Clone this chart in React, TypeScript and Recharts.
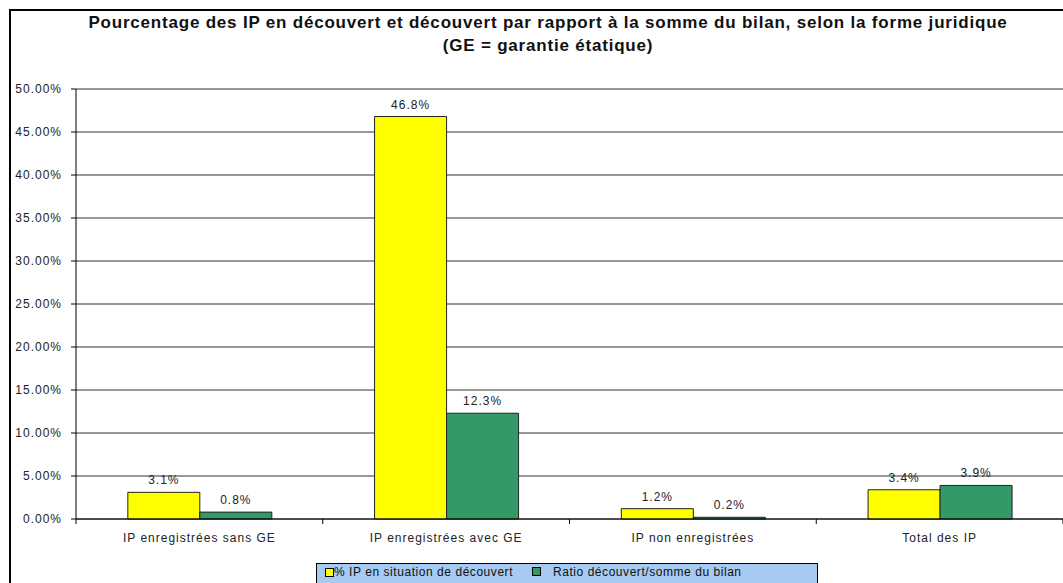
import React from 'react';
import { BarChart, Bar, XAxis, YAxis, CartesianGrid, LabelList } from 'recharts';

const categories = ['IP enregistrées sans GE', 'IP enregistrées avec GE', 'IP non enregistrées', 'Total des IP'];
const overdraftShare = [3.1, 46.8, 1.2, 3.4];
const overdraftRatio = [0.8, 12.3, 0.2, 3.9];
const yTicks = [0, 5, 10, 15, 20, 25, 30, 35, 40, 45, 50];
const seriesNames = ['% IP en situation de découvert', 'Ratio découvert/somme du bilan'];
const titleLines = ['Pourcentage des IP en découvert et découvert par rapport à la somme du bilan, selon la forme juridique', '(GE = garantie étatique)'];

const data = categories.map((c, i) => ({
  name: c,
  share: overdraftShare[i],
  ratio: overdraftRatio[i],
}));

const FONT = '"Liberation Sans", Arial, sans-serif';
const YELLOW = '#FFFF00';
const GREEN = '#339966';

const CategoryTick = (props: any) => {
  const { x, y, payload, index, visibleTicksCount } = props;
  const half = payload && payload.offset ? payload.offset : 0;
  const axisY = y - 6 - 5;
  return (
    <g>
      <line x1={x - half} x2={x - half} y1={axisY} y2={axisY + 5} stroke="#000" />
      {index === visibleTicksCount - 1 && (
        <line x1={x + half} x2={x + half} y1={axisY} y2={axisY + 5} stroke="#000" />
      )}
      <text x={x} y={y} dy={12} textAnchor="middle" fontSize={12} letterSpacing={1} fill="#222" fontFamily={FONT}>
        {payload.value}
      </text>
    </g>
  );
};

export default function App() {
  return (
    <div style={{ position: 'absolute', left: 0, top: 0, width: 1063, height: 583, overflow: 'hidden', background: '#fff', fontFamily: FONT }}>
      <div style={{ position: 'absolute', left: 9, top: 9, width: 1200, height: 800, border: '2px solid #000' }} />
      <div style={{ position: 'absolute', left: 0, top: 11, width: 1096, textAlign: 'center', fontWeight: 'bold', fontSize: 17, letterSpacing: 0.8, lineHeight: '23px', color: '#111' }}>
        {titleLines.map((t) => (
          <div key={t}>{t}</div>
        ))}
      </div>
      <div style={{ position: 'absolute', left: 0, top: 0 }}>
        <BarChart
          width={1063}
          height={583}
          data={data}
          margin={{ top: 89, right: 0, left: 0, bottom: 34 }}
          barCategoryGap="21%"
          barGap={0}
        >
          <CartesianGrid vertical={false} stroke="#333" strokeWidth={1} />
          <XAxis
            dataKey="name"
            height={30}
            axisLine={{ stroke: '#000' }}
            tickLine={false}
            tickSize={6}
            tickMargin={5}
            interval={0}
            tick={<CategoryTick />}
          />
          <YAxis
            width={76}
            domain={[0, 50]}
            ticks={yTicks}
            tickFormatter={(v: number) => `${v.toFixed(2)}%`}
            tickSize={5}
            tickMargin={9}
            axisLine={{ stroke: '#000' }}
            tickLine={{ stroke: '#000' }}
            tick={{ fontSize: 12, letterSpacing: 1, fill: '#222', fontFamily: FONT }}
          />
          <Bar dataKey="share" name={seriesNames[0]} fill={YELLOW} stroke="#222" strokeWidth={1} isAnimationActive={false}>
            <LabelList dataKey="share" position="top" offset={8} formatter={(v: number) => `${v.toFixed(1)}%`} style={{ fontSize: 12, letterSpacing: 1, fill: '#222', fontFamily: FONT }} />
          </Bar>
          <Bar dataKey="ratio" name={seriesNames[1]} fill={GREEN} stroke="#222" strokeWidth={1} isAnimationActive={false}>
            <LabelList dataKey="ratio" position="top" offset={8} formatter={(v: number) => `${v.toFixed(1)}%`} style={{ fontSize: 12, letterSpacing: 1, fill: '#222', fontFamily: FONT }} />
          </Bar>
        </BarChart>
      </div>
      <div style={{ position: 'absolute', left: 316, top: 563, width: 500, height: 40, background: '#A6CAF0', border: '1px solid #000', fontSize: 12, letterSpacing: 0.55, color: '#111' }}>
        <div style={{ position: 'absolute', left: 8, top: 4, width: 7, height: 7, background: YELLOW, border: '1px solid #000' }} />
        <div style={{ position: 'absolute', left: 17, top: 1, whiteSpace: 'nowrap' }}>{seriesNames[0]}</div>
        <div style={{ position: 'absolute', left: 215, top: 3, width: 7, height: 7, background: GREEN, border: '1px solid #000' }} />
        <div style={{ position: 'absolute', left: 236, top: 1, whiteSpace: 'nowrap' }}>{seriesNames[1]}</div>
      </div>
    </div>
  );
}
